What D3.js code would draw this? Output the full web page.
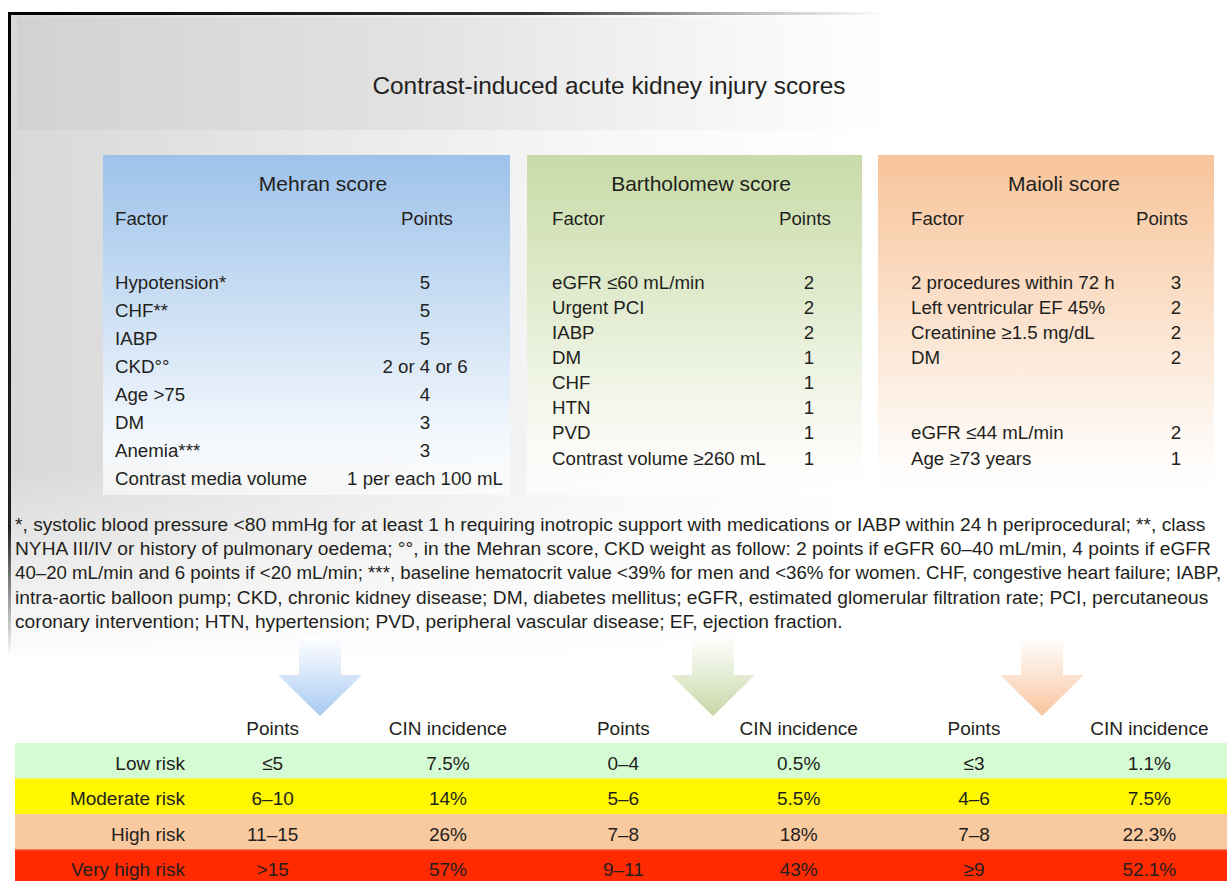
<!DOCTYPE html>
<html>
<head>
<meta charset="utf-8">
<script src="https://cdn.jsdelivr.net/npm/d3@7"></script>
<style>
  body { margin: 0; background: #fff; }
  svg text { font-family: "Liberation Sans", Arial, Helvetica, sans-serif; fill: #231f20; }
</style>
</head>
<body>
<div id="chart"></div>
<script>
// Score tables
const title = "Contrast-induced acute kidney injury scores";
const scoreNames = ["Mehran score", "Bartholomew score", "Maioli score"];

const mehranFactors = ["Hypotension*", "CHF**", "IABP", "CKD°°", "Age >75", "DM", "Anemia***", "Contrast media volume"];
const mehranPoints = ["5", "5", "5", "2 or 4 or 6", "4", "3", "3", "1 per each 100 mL"];

const bartholomewFactors = ["eGFR ≤60 mL/min", "Urgent PCI", "IABP", "DM", "CHF", "HTN", "PVD", "Contrast volume ≥260 mL"];
const bartholomewPoints = ["2", "2", "2", "1", "1", "1", "1", "1"];

const maioliFactors = ["2 procedures within 72 h", "Left ventricular EF 45%", "Creatinine ≥1.5 mg/dL", "DM", "", "", "eGFR ≤44 mL/min", "Age ≥73 years"];
const maioliPoints = ["3", "2", "2", "2", "", "", "2", "1"];

// Risk table
const riskLevels = ["Low risk", "Moderate risk", "High risk", "Very high risk"];
const tableHeaders = ["Points", "CIN incidence", "Points", "CIN incidence", "Points", "CIN incidence"];
const mehranRange = ["≤5", "6–10", "11–15", ">15"];
const mehranCIN = ["7.5%", "14%", "26%", "57%"];
const bartholomewRange = ["0–4", "5–6", "7–8", "9–11"];
const bartholomewCIN = ["0.5%", "5.5%", "18%", "43%"];
const maioliRange = ["≤3", "4–6", "7–8", "≥9"];
const maioliCIN = ["1.1%", "7.5%", "22.3%", "52.1%"];

const footnote = [
  "*, systolic blood pressure <80 mmHg for at least 1 h requiring inotropic support with medications or IABP within 24 h periprocedural; **, class",
  "NYHA III/IV or history of pulmonary oedema; °°, in the Mehran score, CKD weight as follow: 2 points if eGFR 60–40 mL/min, 4 points if eGFR",
  "40–20 mL/min and 6 points if <20 mL/min; ***, baseline hematocrit value <39% for men and <36% for women. CHF, congestive heart failure; IABP,",
  "intra-aortic balloon pump; CKD, chronic kidney disease; DM, diabetes mellitus; eGFR, estimated glomerular filtration rate; PCI, percutaneous",
  "coronary intervention; HTN, hypertension; PVD, peripheral vascular disease; EF, ejection fraction."
];

// Colours
const panelColors = ["#9dc2ea", "#c8dba7", "#f8c49a"];
const arrowColors = ["#a6c9f4", "#c5d6a4", "#f8c39b"];
const riskColors = ["#d4fbd4", "#fff800", "#f9c9a0", "#ff2a00"];

const W = 1227, H = 881;

const svg = d3.select("#chart").append("svg")
  .attr("width", W)
  .attr("height", H);

const defs = svg.append("defs");

function linGrad(id, stops, vertical) {
  const g = defs.append("linearGradient").attr("id", id)
    .attr("x1", 0).attr("y1", 0)
    .attr("x2", vertical ? 0 : 1).attr("y2", vertical ? 1 : 0);
  stops.forEach(([o, c, a]) => g.append("stop").attr("offset", o).attr("stop-color", c).attr("stop-opacity", a == null ? 1 : a));
  return `url(#${id})`;
}

// Background frame
svg.append("rect").attr("x", 10).attr("y", 14).attr("width", W - 10).attr("height", 650)
  .attr("fill", linGrad("bgH", [[0, "#d8d8d8"], [0.25, "#e8e8e8"], [0.5, "#f8f8f8"], [0.7, "#ffffff"]]));
svg.append("rect").attr("x", 10).attr("y", 14).attr("width", W - 10).attr("height", 650)
  .attr("fill", linGrad("bgV", [[0, "#fff", 0], [0.7, "#fff", 0], [1, "#fff", 1]], true));
svg.append("rect").attr("x", 17).attr("y", 17).attr("width", 880).attr("height", 113)
  .attr("fill", linGrad("band", [[0, "#d2d2d2"], [0.45, "#e2e2e2"], [0.8, "#f6f6f6"], [1, "#ffffff"]]));
svg.append("rect").attr("x", 8).attr("y", 12).attr("width", 3).attr("height", 645)
  .attr("fill", linGrad("lineV", [[0, "#000"], [0.8, "#222"], [1, "#fff"]], true));
svg.append("rect").attr("x", 8).attr("y", 12).attr("width", 880).attr("height", 3)
  .attr("fill", linGrad("lineH", [[0, "#000"], [0.6, "#333"], [0.8, "#aaa"], [1, "#fff"]]));

svg.append("text")
  .attr("x", 609).attr("y", 85).attr("dy", "0.35em")
  .attr("text-anchor", "middle")
  .style("font-size", "24.4px")
  .text(title);

// Score panels
const panels = [
  { x0: 103, x1: 510, titleX: 323, factorX: 115, headX: 427, pointsX: 425, yEnd: 478, factors: mehranFactors, points: mehranPoints, arrowX: 320 },
  { x0: 527, x1: 862, titleX: 701, factorX: 552, headX: 805, pointsX: 809, yEnd: 458, factors: bartholomewFactors, points: bartholomewPoints, arrowX: 713 },
  { x0: 878, x1: 1214, titleX: 1064, factorX: 911, headX: 1162, pointsX: 1176, yEnd: 458, factors: maioliFactors, points: maioliPoints, arrowX: 1042 }
];

panels.forEach((p, i) => {
  const g = svg.append("g");
  const c = d3.color(panelColors[i]);
  g.append("rect")
    .attr("x", p.x0).attr("y", 155).attr("width", p.x1 - p.x0).attr("height", 340)
    .attr("fill", linGrad("panel" + i, [[0, c.formatHex()], [0.85, d3.interpolateRgb(c, "#fff")(0.9)], [1, "#fff", 0.6]], true));

  g.append("text").attr("x", p.titleX).attr("y", 184).attr("dy", "0.35em")
    .attr("text-anchor", "middle").style("font-size", "21px").text(scoreNames[i]);
  g.append("text").attr("x", p.factorX).attr("y", 218).attr("dy", "0.35em")
    .style("font-size", "18.7px").text("Factor");
  g.append("text").attr("x", p.headX).attr("y", 218).attr("dy", "0.35em")
    .attr("text-anchor", "middle").style("font-size", "18.7px").text("Points");

  const y = d3.scaleLinear().domain([0, p.factors.length - 1]).range([282, p.yEnd]);

  g.selectAll("text.factor").data(p.factors).join("text")
    .attr("class", "factor")
    .attr("x", p.factorX).attr("y", (d, j) => y(j)).attr("dy", "0.35em")
    .style("font-size", "18.7px").text(d => d);
  g.selectAll("text.pts").data(p.points).join("text")
    .attr("class", "pts")
    .attr("x", p.pointsX).attr("y", (d, j) => y(j)).attr("dy", "0.35em")
    .attr("text-anchor", "middle").style("font-size", "18.7px").text(d => d);

  // Arrow
  const ax = p.arrowX, top = 636, neck = 675, tip = 716, sw = 21, hw = 42;
  g.append("path")
    .attr("d", `M${ax - sw},${top}H${ax + sw}V${neck}H${ax + hw}L${ax},${tip}L${ax - hw},${neck}H${ax - sw}Z`)
    .attr("fill", linGrad("arrow" + i, [[0, "#fff", 0.9], [1, arrowColors[i]]], true));
});

// Footnote (shrink any line that would run past the right edge)
const noteSize = 19.2;
const maxLine = W - 15 - 6;
svg.append("g").selectAll("text").data(footnote).join("text")
  .attr("x", 15).attr("y", (d, i) => 524 + i * 24.3).attr("dy", "0.35em")
  .style("font-size", noteSize + "px").text(d => d)
  .each(function () {
    const len = this.getComputedTextLength();
    if (len > maxLine) d3.select(this).style("font-size", (noteSize * maxLine / len).toFixed(2) + "px");
  });

// Risk table
const rowY = d3.scaleBand().domain(riskLevels).range([743, 885]);
const colX = d3.scaleBand().domain(d3.range(tableHeaders.length)).range([185, 1237]);
const colCenter = j => colX(j) + colX.bandwidth() / 2;
const color = d3.scaleOrdinal().domain(riskLevels).range(riskColors);

const table = svg.append("g");
table.selectAll("rect").data(riskLevels).join("rect")
  .attr("x", 15).attr("y", d => rowY(d))
  .attr("width", W - 15).attr("height", rowY.bandwidth())
  .attr("fill", d => color(d));
table.append("line")
  .attr("x1", 15).attr("x2", W)
  .attr("y1", rowY("Very high risk") + 0.5).attr("y2", rowY("Very high risk") + 0.5)
  .attr("stroke", "#f0684c");

table.selectAll("text.head").data(tableHeaders).join("text")
  .attr("class", "head")
  .attr("x", (d, j) => colCenter(j)).attr("y", 728).attr("dy", "0.35em")
  .attr("text-anchor", "middle").style("font-size", "19px").text(d => d);

table.selectAll("text.risk").data(riskLevels).join("text")
  .attr("class", "risk")
  .attr("x", 185).attr("y", d => rowY(d) + rowY.bandwidth() / 2 + 2.5).attr("dy", "0.35em")
  .attr("text-anchor", "end").style("font-size", "19px").text(d => d);

const columns = [mehranRange, mehranCIN, bartholomewRange, bartholomewCIN, maioliRange, maioliCIN];
columns.forEach((vals, j) => {
  table.selectAll(`text.c${j}`).data(vals).join("text")
    .attr("class", `c${j}`)
    .attr("x", colCenter(j))
    .attr("y", (d, i) => rowY(riskLevels[i]) + rowY.bandwidth() / 2 + 2.5).attr("dy", "0.35em")
    .attr("text-anchor", "middle").style("font-size", "19px").text(d => d);
});
</script>
</body>
</html>
